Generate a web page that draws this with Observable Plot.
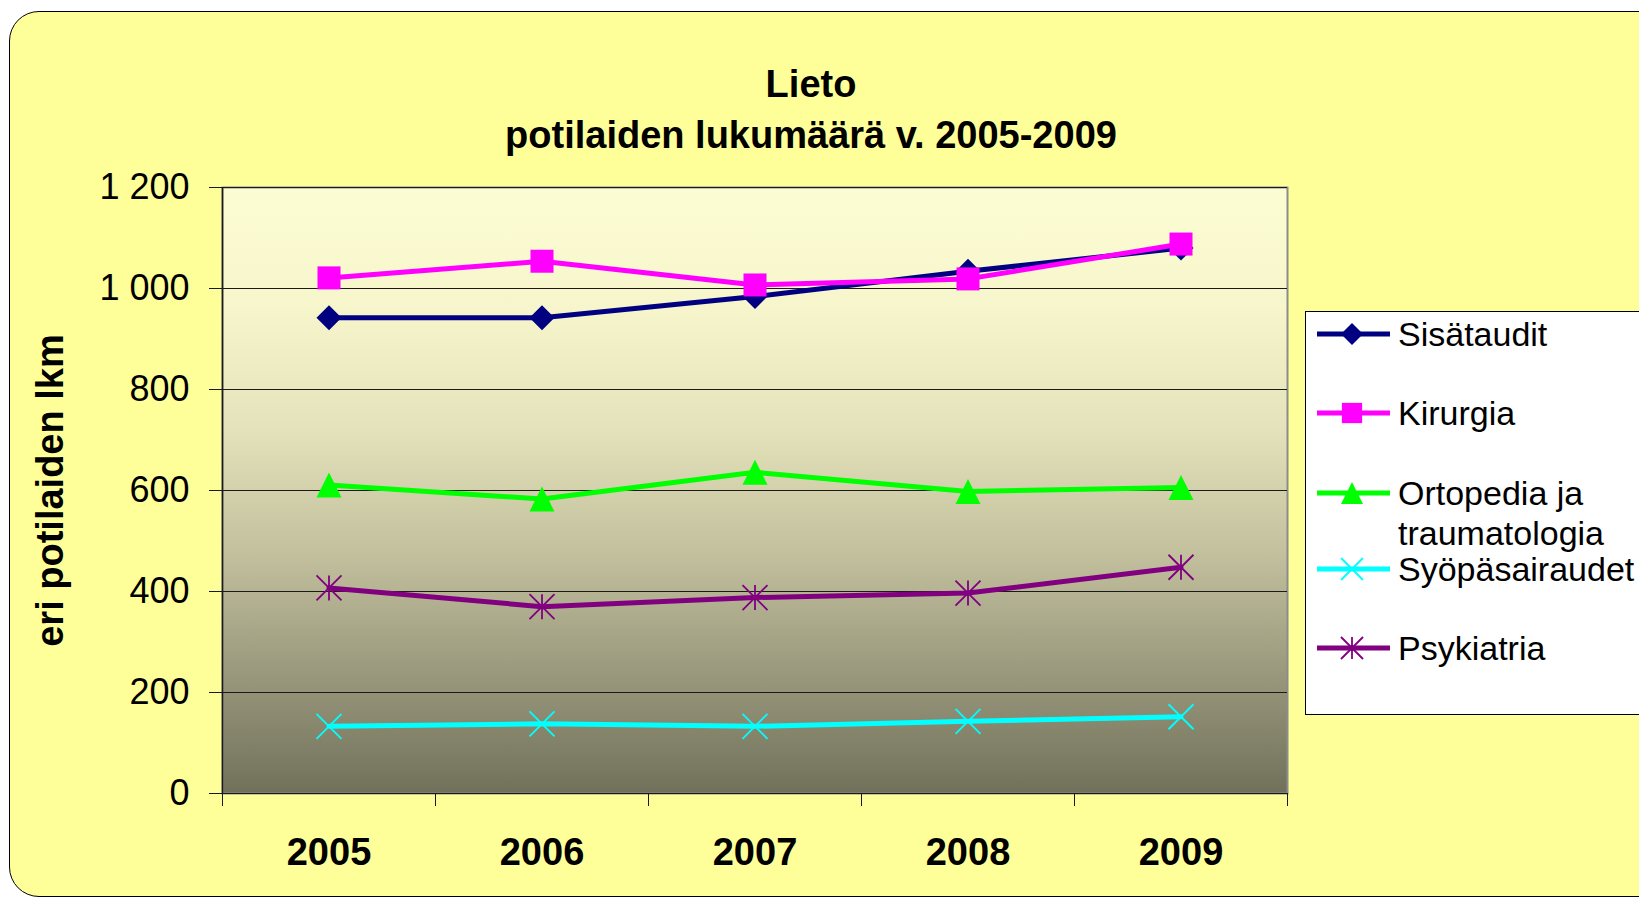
<!DOCTYPE html>
<html><head><meta charset="utf-8">
<script src="https://cdn.jsdelivr.net/npm/d3@7"></script>
<script src="https://cdn.jsdelivr.net/npm/@observablehq/plot@0.6"></script>
<style>
html,body{margin:0;padding:0;background:#fff;width:1639px;height:897px;overflow:hidden;font-family:Arial,"Liberation Sans",sans-serif}
#bg{position:absolute;left:9px;top:11px;width:1670px;height:886px;background:#FFFF99;border:1.5px solid #000;border-radius:30px;box-sizing:border-box}
#chart{position:absolute;left:0;top:0}
#legend{position:absolute;left:1305px;top:311px;width:380px;height:404px;background:#fff;border:1px solid #000;box-sizing:border-box}
.row{position:absolute;left:0;width:380px}
.row svg{position:absolute;left:0;top:0}
.row .lab{position:absolute;left:92px;top:0;font-size:34px;line-height:40px;color:#000;white-space:nowrap}
</style>
</head><body>
<div id="bg"></div>
<div id="chart"></div>
<div id="legend"></div>
<script>
const title = "Lieto\npotilaiden lukumäärä v. 2005-2009";
const yLabel = "eri potilaiden lkm";
const years = [2005, 2006, 2007, 2008, 2009];
const seriesNames = ["Sisätaudit", "Kirurgia", "Ortopedia ja traumatologia", "Syöpäsairaudet", "Psykiatria"];
const legendLabels = ["Sisätaudit", "Kirurgia", "Ortopedia ja\ntraumatologia", "Syöpäsairaudet", "Psykiatria"];
const sisataudit = [942, 942, 984, 1034, 1080];
const kirurgia = [1021, 1054, 1007, 1019, 1088];
const ortopedia = [611, 583, 636, 598, 606];
const syopa = [133, 138, 133, 143, 152];
const psykiatria = [407, 370, 388, 397, 448];
const yTicks = [0, 200, 400, 600, 800, 1000, 1200];
const colors = ["#000080", "#FF00FF", "#00FF00", "#00FFFF", "#800080"];

const valuesList = [sisataudit, kirurgia, ortopedia, syopa, psykiatria];

// custom marker symbols (size = r*r*PI)
const rad = s => Math.sqrt(s / Math.PI);
const symDiamond = {draw(c, s){const r = rad(s); c.moveTo(0,-r); c.lineTo(r,0); c.lineTo(0,r); c.lineTo(-r,0); c.closePath();}};
const symSquare = {draw(c, s){const r = rad(s); c.rect(-r,-r,2*r,2*r);}};
const symTriangle = {draw(c, s){const r = rad(s); c.moveTo(0,-r); c.lineTo(r,r); c.lineTo(-r,r); c.closePath();}};
const symX = {draw(c, s){const r = rad(s); c.moveTo(-r,-r); c.lineTo(r,r); c.moveTo(-r,r); c.lineTo(r,-r);}};
const symAst = {draw(c, s){const r = rad(s); c.moveTo(-r,-r); c.lineTo(r,r); c.moveTo(-r,r); c.lineTo(r,-r); c.moveTo(0,-r); c.lineTo(0,r);}};
const styles = [
  {symbol: symDiamond, r: 12.5, filled: true},
  {symbol: symSquare, r: 11.5, filled: true},
  {symbol: symTriangle, r: 12.5, filled: true},
  {symbol: symX, r: 12.5, filled: false},
  {symbol: symAst, r: 12.5, filled: false}
];

const series = seriesNames.map((name, k) => ({
  name, color: colors[k], ...styles[k],
  data: years.map((year, i) => ({year, value: valuesList[k][i], series: name}))
}));

const locale = d3.formatLocale({thousands: " ", grouping: [3], decimal: ","});
const fmt = locale.format(",");
const xBounds = [years[0] - 0.5, ...years.map(y => y + 0.5)];

function gradientFrame(index, scales, values, dims) {
  const g = d3.create("svg:g");
  const lg = g.append("defs").append("linearGradient").attr("id", "pa")
    .attr("x1", 0).attr("y1", 0).attr("x2", 0).attr("y2", 1);
  [[0, "#FDFDD4"], [0.2, "#F6F5CB"], [0.4, "#E4E2BA"], [0.6, "#C3C19E"], [0.8, "#9A997D"], [1, "#71715B"]]
    .forEach(([o, c]) => lg.append("stop").attr("offset", o).attr("stop-color", c));
  g.append("rect")
    .attr("x", dims.marginLeft).attr("y", dims.marginTop)
    .attr("width", dims.width - dims.marginLeft - dims.marginRight)
    .attr("height", dims.height - dims.marginTop - dims.marginBottom)
    .attr("fill", "url(#pa)");
  return g.node();
}

const marks = [
  gradientFrame,
  Plot.frame({stroke: "#8c8c8c", strokeWidth: 2}),
  Plot.ruleY(yTicks, {stroke: "#1a1a1a", strokeWidth: 1}),
  Plot.ruleX([xBounds[0]], {stroke: "#1a1a1a", strokeWidth: 1.5}),
  Plot.axisY({ticks: yTicks, tickSize: 13, tickPadding: 20, fontSize: 36, tickFormat: fmt, label: null, stroke: "#1a1a1a"}),
  Plot.axisX({ticks: xBounds, tickSize: 13, tickFormat: () => "", label: null, stroke: "#1a1a1a"}),
  Plot.axisX({ticks: years, tickSize: 0, tickPadding: 45, fontSize: 38, fontWeight: "bold", tickFormat: d => String(d), label: null}),
  Plot.text([title], {text: d => d, frameAnchor: "top", textAnchor: "middle", lineAnchor: "middle", dx: 56, dy: -81, fontSize: 38, fontWeight: "bold", lineHeight: 1.32}),
  Plot.text([yLabel], {text: d => d, frameAnchor: "left", textAnchor: "middle", lineAnchor: "middle", rotate: -90, dx: -172, fontSize: 38, fontWeight: "bold"})
];
for (const s of series) {
  marks.push(Plot.line(s.data, {x: "year", y: "value", stroke: s.color, strokeWidth: 5}));
  marks.push(Plot.dot(s.data, {x: "year", y: "value", symbol: s.symbol, r: s.r,
    fill: s.filled ? s.color : "none", stroke: s.color, strokeWidth: s.filled ? 0 : 1.8}));
}

const chart = Plot.plot({
  width: 1639, height: 897,
  marginLeft: 222, marginRight: 352, marginTop: 187, marginBottom: 104,
  style: {background: "transparent", fontFamily: "Arial, 'Liberation Sans', sans-serif", color: "#000"},
  x: {type: "linear", domain: [xBounds[0], xBounds[xBounds.length - 1]], axis: null},
  y: {type: "linear", domain: [0, 1200], axis: null},
  marks
});
document.getElementById("chart").appendChild(chart);

// legend
const rowCenters = [22, 101, 181, 257, 336];
const legend = d3.select("#legend");
series.forEach((s, k) => {
  const row = legend.append("div").attr("class", "row").style("top", (rowCenters[k] - 20) + "px");
  const svg = row.append("svg").attr("width", 92).attr("height", 40);
  svg.append("line").attr("x1", 11).attr("x2", 84).attr("y1", 20).attr("y2", 20)
    .attr("stroke", s.color).attr("stroke-width", 5);
  svg.append("path").attr("transform", "translate(46,20)")
    .attr("d", d3.symbol(s.symbol, (s.r * 0.88) ** 2 * Math.PI)())
    .attr("fill", s.filled ? s.color : "none").attr("stroke", s.color).attr("stroke-width", s.filled ? 0 : 1.8);
  const lab = row.append("div").attr("class", "lab");
  legendLabels[k].split("\n").forEach(t => lab.append("div").text(t));
});
</script>
</body></html>
